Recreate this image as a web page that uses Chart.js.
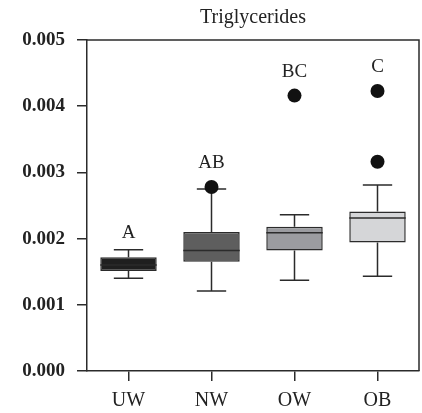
<!DOCTYPE html>
<html>
<head>
<meta charset="utf-8">
<script src="https://cdn.jsdelivr.net/npm/chart.js@4/dist/chart.umd.min.js"></script>
<style>
  html, body { margin: 0; padding: 0; background: #fff; }
  #wrap { width: 422px; height: 413px; }
</style>
</head>
<body>
<div id="wrap"><canvas id="tgChart"></canvas></div>
<script>
// values
const groups = ['UW', 'NW', 'OW', 'OB']
const whiskerLow = [0.00140, 0.00121, 0.00137, 0.00143]
const q1 = [0.00151, 0.00165, 0.00182, 0.00194]
const median = [0.00160, 0.00182, 0.00209, 0.00231]
const q3 = [0.00172, 0.00210, 0.00218, 0.00241]
const whiskerHigh = [0.00183, 0.00275, 0.00236, 0.00281]
const outlierGroup = ['NW', 'OW', 'OB', 'OB']
const outlierValue = [0.00278, 0.00416, 0.00316, 0.00423]
const letters = ['A', 'AB', 'BC', 'C']
const yTicks = [0, 0.001, 0.002, 0.003, 0.004, 0.005]

const fills = ['#1f1f1f', '#5e5e5e', '#9b9ca0', '#d5d6d8']
const ink = '#2b2b2b'
const serif = '"Liberation Serif", "DejaVu Serif", serif'

const boxExtras = {
    id: 'boxExtras',
    beforeDatasetsDraw(chart) {
        const ctx = chart.ctx
        const y = chart.scales.y
        const bars = chart.getDatasetMeta(0).data
        ctx.save()
        ctx.strokeStyle = ink
        ctx.lineWidth = 1.5
        bars.forEach((bar, i) => {
            const cap = bar.width * 0.26
            const top = y.getPixelForValue(whiskerHigh[i])
            const bot = y.getPixelForValue(whiskerLow[i])
            ctx.beginPath()
            ctx.moveTo(bar.x, y.getPixelForValue(q3[i])); ctx.lineTo(bar.x, top)
            ctx.moveTo(bar.x - cap, top); ctx.lineTo(bar.x + cap, top)
            ctx.moveTo(bar.x, y.getPixelForValue(q1[i])); ctx.lineTo(bar.x, bot)
            ctx.moveTo(bar.x - cap, bot); ctx.lineTo(bar.x + cap, bot)
            ctx.stroke()
        })
        ctx.restore()
    },
    afterDatasetsDraw(chart) {
        const ctx = chart.ctx
        const y = chart.scales.y
        const bars = chart.getDatasetMeta(0).data
        ctx.save()
        ctx.strokeStyle = ink
        ctx.lineWidth = 1.5
        bars.forEach((bar, i) => {
            const m = y.getPixelForValue(median[i])
            ctx.beginPath()
            ctx.moveTo(bar.x - bar.width / 2, m); ctx.lineTo(bar.x + bar.width / 2, m)
            ctx.stroke()
        })
        ctx.restore()
    },
    afterDraw(chart) {
        const ctx = chart.ctx
        const a = chart.chartArea
        const y = chart.scales.y
        const bars = chart.getDatasetMeta(0).data
        ctx.save()
        // top and right frame
        ctx.strokeStyle = ink
        ctx.lineWidth = 1.5
        ctx.beginPath()
        ctx.moveTo(a.left, a.top); ctx.lineTo(a.right, a.top); ctx.lineTo(a.right, a.bottom)
        ctx.stroke()
        // title over plot area
        ctx.fillStyle = '#222'
        ctx.textAlign = 'center'
        ctx.textBaseline = 'alphabetic'
        ctx.font = '20px ' + serif
        ctx.fillText('Triglycerides', (a.left + a.right) / 2, 23)
        // group letters
        ctx.font = '19px ' + serif
        bars.forEach((bar, i) => {
            let top = y.getPixelForValue(whiskerHigh[i])
            outlierGroup.forEach((g, k) => {
                if (g === groups[i]) top = Math.min(top, y.getPixelForValue(outlierValue[k]) - 7)
            })
            ctx.fillText(letters[i], bar.x, top - 12)
        })
        ctx.restore()
    }
}

new Chart(document.getElementById('tgChart'), {
    type: 'bar',
    data: {
        labels: groups,
        datasets: [{
            data: groups.map((g, i) => [q1[i], q3[i]]),
            backgroundColor: fills,
            borderColor: ink,
            borderWidth: 1.5,
            borderSkipped: false,
            categoryPercentage: 1,
            barPercentage: 0.68,
            order: 1
        }, {
            type: 'line',
            data: outlierGroup.map((g, i) => ({ x: g, y: outlierValue[i] })),
            showLine: false,
            pointRadius: 7,
            pointBackgroundColor: '#111',
            pointBorderColor: '#111',
            pointBorderWidth: 0,
            order: 0
        }]
    },
    options: {
        responsive: true,
        maintainAspectRatio: false,
        animation: false,
        layout: { autoPadding: false, padding: { top: 40, right: 3, left: 0, bottom: 0 } },
        plugins: { legend: { display: false }, tooltip: { enabled: false }, title: { display: false } },
        scales: {
            x: {
                afterFit: s => { s.height = 42 },
                grid: { display: true, offset: false, drawOnChartArea: false, drawTicks: true, tickLength: 10, color: ink, lineWidth: 1.5 },
                border: { display: true, color: ink, width: 1.5 },
                ticks: { color: '#222', font: { family: serif, size: 20 }, padding: 8 }
            },
            y: {
                min: 0,
                max: 0.005,
                afterFit: s => { s.width = 87 },
                afterBuildTicks: s => { s.ticks = yTicks.map(v => ({ value: v })) },
                grid: { display: true, drawOnChartArea: false, drawTicks: true, tickLength: 10, color: ink, lineWidth: 1.5 },
                border: { display: true, color: ink, width: 1.5 },
                ticks: { color: '#222', font: { family: serif, size: 19, weight: 'bold' }, padding: 12,
                    callback: v => v.toFixed(3) }
            }
        }
    },
    plugins: [boxExtras]
})
</script>
</body>
</html>
